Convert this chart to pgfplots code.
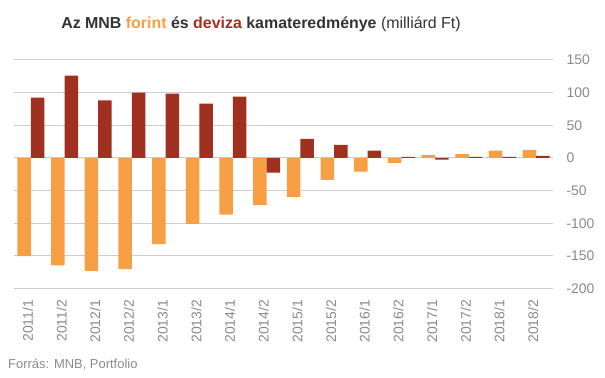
\documentclass[border=0pt]{standalone}
\usepackage{pgfplots}
\pgfplotsset{compat=1.18}
\usepackage{fontspec}
\setmainfont{Liberation Sans}
\definecolor{forint}{HTML}{F79F45}
\definecolor{deviza}{HTML}{A03020}
\definecolor{gridc}{HTML}{CCCCCC}
\definecolor{labc}{HTML}{8A8A8A}
\definecolor{titc}{HTML}{333333}
\begin{document}
\begin{tikzpicture}
\useasboundingbox (-14bp,-89.5bp) rectangle (591bp,288.5bp);
\begin{axis}[
  at={(0,0)}, anchor=south west,
  scale only axis, width=539bp, height=228.5bp,
  xmin=-0.5, xmax=15.5, ymin=-200, ymax=150,
  ybar=0pt, bar width=13.5bp,
  axis line style={draw=none},
  major tick length=0pt,
  ymajorgrids, grid style={gridc, line width=1bp},
  ytick={-200,-150,...,150},
  yticklabel pos=right,
  yticklabel style={anchor=west, font=\fontsize{14}{15}\selectfont, text=labc, xshift=10bp},
  xtick=data,
  xticklabels={2011/1,2011/2,2012/1,2012/2,2013/1,2013/2,2014/1,2014/2,2015/1,2015/2,2016/1,2016/2,2017/1,2017/2,2018/1,2018/2},
  xticklabel style={rotate=90, anchor=east, font=\fontsize{14}{15}\selectfont, text=labc, xshift=-8bp, yshift=3bp},
  /pgf/number format/assume math mode=true,
  every axis plot/.append style={draw=none},
]
\addplot[fill=forint] coordinates {(0,-150.5) (1,-164.5) (2,-173) (3,-170.5) (4,-132) (5,-101) (6,-87) (7,-72) (8,-59.5) (9,-33.5) (10,-21) (11,-7.5) (12,4.5) (13,6) (14,11) (15,12.5)};
\addplot[fill=deviza] coordinates {(0,92.5) (1,126) (2,88) (3,100) (4,98.5) (5,83) (6,94) (7,-22.5) (8,29) (9,20) (10,11) (11,1.5) (12,-2.5) (13,1.5) (14,1.5) (15,3)};
\end{axis}
\node[text=titc, font=\fontsize{16}{18}\selectfont] at (247bp,264.5bp) {\textbf{Az MNB \textcolor{forint}{forint} és \textcolor{deviza}{deviza} kamateredménye} (milliárd Ft)};
\node[anchor=west, text=labc, font=\fontsize{13}{14}\selectfont, inner sep=0pt] at (-6bp,-76.5bp) {Forrás: MNB, Portfolio};
\end{tikzpicture}
\end{document}
